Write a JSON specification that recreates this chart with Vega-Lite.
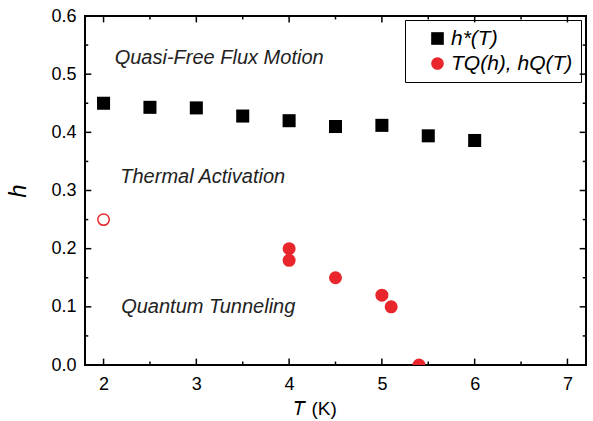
{
  "$schema": "https://vega.github.io/schema/vega-lite/v6.json",
  "width": 501,
  "height": 349,
  "autosize": {"type": "none"},
  "padding": {"left": 85, "top": 16, "right": 7, "bottom": 56},
  "background": "white",
  "config": {
    "font": "Liberation Sans",
    "view": {"stroke": "black", "strokeWidth": 2},
    "axis": {"domain": false, "ticks": false, "grid": false, "labelColor": "black", "titleColor": "black", "labelFontSize": 18, "titleFontSize": 19, "labelFont": "Liberation Sans", "titleFont": "Liberation Sans", "titleFontWeight": "normal"}
  },
  "datasets": {
    "points": [
      {"T": 2.0, "h": 0.450, "series": "h*(T)", "open": false},
      {"T": 2.5, "h": 0.443, "series": "h*(T)", "open": false},
      {"T": 3.0, "h": 0.442, "series": "h*(T)", "open": false},
      {"T": 3.5, "h": 0.428, "series": "h*(T)", "open": false},
      {"T": 4.0, "h": 0.420, "series": "h*(T)", "open": false},
      {"T": 4.5, "h": 0.410, "series": "h*(T)", "open": false},
      {"T": 5.0, "h": 0.412, "series": "h*(T)", "open": false},
      {"T": 5.5, "h": 0.394, "series": "h*(T)", "open": false},
      {"T": 6.0, "h": 0.386, "series": "h*(T)", "open": false},
      {"T": 4.0, "h": 0.200, "series": "TQ(h), hQ(T)", "open": false},
      {"T": 4.0, "h": 0.180, "series": "TQ(h), hQ(T)", "open": false},
      {"T": 4.5, "h": 0.150, "series": "TQ(h), hQ(T)", "open": false},
      {"T": 5.0, "h": 0.120, "series": "TQ(h), hQ(T)", "open": false},
      {"T": 5.1, "h": 0.100, "series": "TQ(h), hQ(T)", "open": false},
      {"T": 5.4, "h": 0.000, "series": "TQ(h), hQ(T)", "open": false},
      {"T": 2.0, "h": 0.250, "series": "TQ(h), hQ(T)", "open": true}
    ],
    "xticks": [
      {"v": 2, "major": true}, {"v": 2.5, "major": false}, {"v": 3, "major": true}, {"v": 3.5, "major": false},
      {"v": 4, "major": true}, {"v": 4.5, "major": false}, {"v": 5, "major": true}, {"v": 5.5, "major": false},
      {"v": 6, "major": true}, {"v": 6.5, "major": false}, {"v": 7, "major": true}
    ],
    "yticks": [
      {"v": 0, "major": true}, {"v": 0.05, "major": false}, {"v": 0.1, "major": true}, {"v": 0.15, "major": false},
      {"v": 0.2, "major": true}, {"v": 0.25, "major": false}, {"v": 0.3, "major": true}, {"v": 0.35, "major": false},
      {"v": 0.4, "major": true}, {"v": 0.45, "major": false}, {"v": 0.5, "major": true}, {"v": 0.55, "major": false},
      {"v": 0.6, "major": true}
    ],
    "notes": [
      {"T": 2.12, "h": 0.528, "label": "Quasi-Free Flux Motion"},
      {"T": 2.18, "h": 0.323, "label": "Thermal Activation"},
      {"T": 2.19, "h": 0.100, "label": "Quantum Tunneling"}
    ]
  },
  "layer": [
    {
      "data": {"name": "xticks"},
      "transform": [{"filter": "datum.major"}],
      "mark": {"type": "rule", "color": "black", "strokeWidth": 1.5},
      "encoding": {
        "x": {"field": "v", "type": "quantitative", "scale": {"domain": [1.8, 7.2], "nice": false, "zero": false},
          "axis": {"orient": "bottom", "values": [2, 3, 4, 5, 6, 7], "format": "d",
            "labelPadding": 10, "title": "𝑇 (K)", "titleX": 230, "titlePadding": 6}},
        "y": {"datum": 0, "type": "quantitative", "scale": {"domain": [0, 0.6], "nice": false},
          "axis": {"orient": "left", "values": [0, 0.1, 0.2, 0.3, 0.4, 0.5, 0.6], "format": ".1f",
            "labelPadding": 9, "title": "h", "titleFontStyle": "italic", "titleFontSize": 24, "titlePadding": 20}},
        "y2": {"datum": 0.011}
      }
    },
    {
      "data": {"name": "xticks"},
      "transform": [{"filter": "!datum.major"}],
      "mark": {"type": "rule", "color": "black", "strokeWidth": 1.5},
      "encoding": {
        "x": {"field": "v", "type": "quantitative", "axis": null},
        "y": {"datum": 0, "type": "quantitative", "axis": null},
        "y2": {"datum": 0.006}
      }
    },
    {
      "data": {"name": "xticks"},
      "transform": [{"filter": "datum.major"}],
      "mark": {"type": "rule", "color": "black", "strokeWidth": 1.5},
      "encoding": {
        "x": {"field": "v", "type": "quantitative", "axis": null},
        "y": {"datum": 0.6, "type": "quantitative", "axis": null},
        "y2": {"datum": 0.589}
      }
    },
    {
      "data": {"name": "xticks"},
      "transform": [{"filter": "!datum.major"}],
      "mark": {"type": "rule", "color": "black", "strokeWidth": 1.5},
      "encoding": {
        "x": {"field": "v", "type": "quantitative", "axis": null},
        "y": {"datum": 0.6, "type": "quantitative", "axis": null},
        "y2": {"datum": 0.594}
      }
    },
    {
      "data": {"name": "yticks"},
      "transform": [{"filter": "datum.major"}],
      "mark": {"type": "rule", "color": "black", "strokeWidth": 1.5},
      "encoding": {
        "y": {"field": "v", "type": "quantitative", "axis": null},
        "x": {"datum": 1.8, "type": "quantitative", "axis": null},
        "x2": {"datum": 1.868}
      }
    },
    {
      "data": {"name": "yticks"},
      "transform": [{"filter": "!datum.major"}],
      "mark": {"type": "rule", "color": "black", "strokeWidth": 1.5},
      "encoding": {
        "y": {"field": "v", "type": "quantitative", "axis": null},
        "x": {"datum": 1.8, "type": "quantitative", "axis": null},
        "x2": {"datum": 1.835}
      }
    },
    {
      "data": {"name": "yticks"},
      "transform": [{"filter": "datum.major"}],
      "mark": {"type": "rule", "color": "black", "strokeWidth": 1.5},
      "encoding": {
        "y": {"field": "v", "type": "quantitative", "axis": null},
        "x": {"datum": 7.2, "type": "quantitative", "axis": null},
        "x2": {"datum": 7.132}
      }
    },
    {
      "data": {"name": "yticks"},
      "transform": [{"filter": "!datum.major"}],
      "mark": {"type": "rule", "color": "black", "strokeWidth": 1.5},
      "encoding": {
        "y": {"field": "v", "type": "quantitative", "axis": null},
        "x": {"datum": 7.2, "type": "quantitative", "axis": null},
        "x2": {"datum": 7.165}
      }
    },
    {
      "data": {"name": "points"},
      "transform": [{"filter": "!datum.open"}],
      "mark": {"type": "point", "filled": true, "opacity": 1, "clip": true, "size": 170},
      "encoding": {
        "x": {"field": "T", "type": "quantitative", "axis": null},
        "y": {"field": "h", "type": "quantitative", "axis": null},
        "shape": {"field": "series", "type": "nominal", "scale": {"domain": ["h*(T)", "TQ(h), hQ(T)"], "range": ["square", "circle"]},
          "legend": {"orient": "none", "legendX": 320, "legendY": 4, "title": null, "strokeColor": "black", "padding": 8,
            "labelFontSize": 21, "labelFontStyle": "italic", "labelFont": "Liberation Sans", "labelColor": "black",
            "symbolSize": 160, "symbolOffset": 14, "labelOffset": 3, "rowPadding": 3, "symbolStrokeWidth": 0, "symbolOpacity": 1}},
        "color": {"field": "series", "type": "nominal", "scale": {"domain": ["h*(T)", "TQ(h), hQ(T)"], "range": ["#000000", "#e8262b"]},
          "legend": {"orient": "none", "legendX": 320, "legendY": 4, "title": null, "strokeColor": "black", "padding": 8,
            "labelFontSize": 21, "labelFontStyle": "italic", "labelFont": "Liberation Sans", "labelColor": "black",
            "symbolSize": 160, "symbolOffset": 14, "labelOffset": 3, "rowPadding": 3, "symbolStrokeWidth": 0, "symbolOpacity": 1}}
      }
    },
    {
      "data": {"name": "points"},
      "transform": [{"filter": "datum.open"}],
      "mark": {"type": "point", "filled": false, "color": "#e8262b", "strokeWidth": 1.5, "size": 130, "opacity": 1},
      "encoding": {
        "x": {"field": "T", "type": "quantitative", "axis": null},
        "y": {"field": "h", "type": "quantitative", "axis": null}
      }
    },
    {
      "data": {"name": "notes"},
      "mark": {"type": "text", "align": "left", "baseline": "middle", "fontSize": 20, "fontStyle": "italic", "font": "Liberation Sans", "color": "#222222"},
      "encoding": {
        "x": {"field": "T", "type": "quantitative", "axis": null},
        "y": {"field": "h", "type": "quantitative", "axis": null},
        "text": {"field": "label"}
      }
    }
  ],
  "resolve": {"axis": {"x": "independent", "y": "independent"}}
}
